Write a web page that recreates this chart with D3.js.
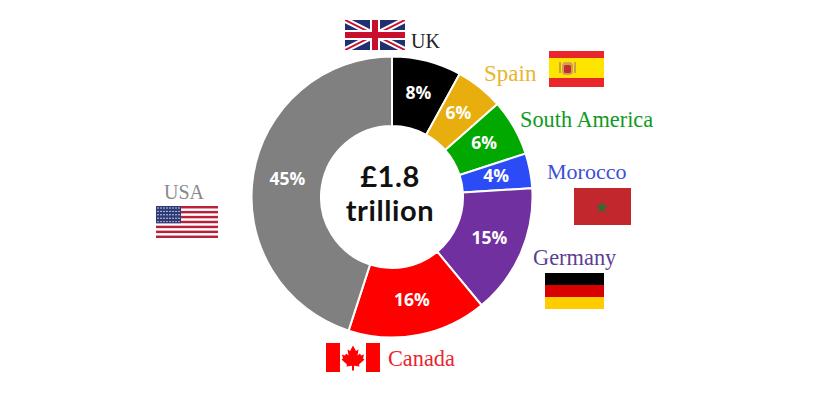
<!DOCTYPE html>
<html><head><meta charset="utf-8">
<script src="https://cdn.jsdelivr.net/npm/d3@7/dist/d3.min.js"></script>
<style>html,body{margin:0;padding:0;background:#fff;overflow:hidden}svg{display:block}</style>
</head><body><svg id="c" width="821" height="402"></svg>
<script>
const categories=["UK","Spain","South America","Morocco","Germany","Canada","USA"];
const shares=[8,5.5,6.5,4,15,16,45];
const shareLabels=["8%","6%","6%","4%","15%","16%","45%"];
const sliceColors=["#000000","#e8ae0e","#00a800","#2a4bf5","#7030a0","#ff0000","#808080"];
const textColors=["#222222","#e9b52c","#0f9a1e","#3c50d8","#5b3f94","#e8252b","#8a8a8a"];
const centreLines=["£1.8","trillion"];
const labelSpots=[[411,48,20],[484,81,23],[520,127,22.3],[547,179,22],[533,265,22.4],[164,199,20],[388,366,22.3]];
const labelOrder=[0,1,2,3,4,6,5];

const svg=d3.select("#c");
const cx=392,cy=197,R=140.5,r0=71;
const g=svg.append("g").attr("transform",`translate(${cx},${cy})`);
const pie=d3.pie().sort(null).value(d=>d)(shares);
const arc=d3.arc().innerRadius(r0).outerRadius(R);
const labelArc=d3.arc().innerRadius(106).outerRadius(106);
g.selectAll("path.s").data(pie).join("path").attr("class","s")
 .attr("d",arc).attr("fill",(d,i)=>sliceColors[i]).attr("stroke","#fff").attr("stroke-width",2);
g.selectAll("text.p").data(pie).join("text").attr("class","p")
 .attr("transform",d=>`translate(${labelArc.centroid(d)})`)
 .attr("text-anchor","middle").attr("dy","0.26em")
 .attr("font-family","'Open Sans',sans-serif").attr("font-weight",700).attr("font-size",17.5)
 .attr("fill","#fff").text((d,i)=>shareLabels[i]);
g.selectAll("text.c").data(centreLines).join("text").attr("class","c")
 .attr("text-anchor","middle").attr("x",-2).attr("y",(d,i)=>i==0?-10:24)
 .attr("font-family","Lato,sans-serif").attr("font-weight",700).attr("font-size",29)
 .attr("letter-spacing",0.6)
 .attr("fill","#111").text(d=>d);
// category labels
svg.selectAll("text.l").data(labelOrder).join("text").attr("class","l")
 .attr("x",(d,i)=>labelSpots[i][0]).attr("y",(d,i)=>labelSpots[i][1])
 .attr("font-size",(d,i)=>labelSpots[i][2])
 .attr("font-family","'Liberation Serif',serif")
 .attr("fill",d=>textColors[d]).text(d=>categories[d]);

function rect(p,x,y,w,h,f){return p.append("rect").attr("x",x).attr("y",y).attr("width",w).attr("height",h).attr("fill",f);}
// UK flag
(function(){const x=345,y=20,w=60,h=30;const p=svg.append("g");
 const id="ukclip";svg.append("defs").append("clipPath").attr("id",id).append("rect").attr("x",x).attr("y",y).attr("width",w).attr("height",h);
 p.attr("clip-path",`url(#${id})`);
 rect(p,x,y,w,h,"#1f2f6f");
 const ln=(a,b,c,d,s,f)=>p.append("line").attr("x1",a).attr("y1",b).attr("x2",c).attr("y2",d).attr("stroke",f).attr("stroke-width",s);
 ln(x,y,x+w,y+h,6,"#fff");ln(x+w,y,x,y+h,6,"#fff");
 ln(x,y,x+w,y+h,2,"#c8102e");ln(x+w,y,x,y+h,2,"#c8102e");
 rect(p,x+w/2-5,y,10,h,"#fff");rect(p,x,y+h/2-5,w,10,"#fff");
 rect(p,x+w/2-3,y,6,h,"#c8102e");rect(p,x,y+h/2-3,w,6,"#c8102e");
})();
// Spain flag
(function(){const x=549,y=51,w=55,h=36;const p=svg.append("g");
 rect(p,x,y,w,h,"#e8262c");rect(p,x,y+7,w,h-16,"#ffe400");
 rect(p,x+10,y+11,2,11,"#c9a24a");rect(p,x+25,y+11,2,11,"#c9a24a");
 rect(p,x+13,y+11,11,13,"#d99a5a").attr("rx",4);
 rect(p,x+15,y+14,7,8,"#c2302a").attr("rx",1.5);
})();
// Morocco flag
(function(){const x=574,y=188,w=57,h=37;const p=svg.append("g");
 rect(p,x,y,w,h,"#c1272d");
 p.append("path").attr("transform",`translate(${x+w/2-0.5},${y+h/2+1})`)
  .attr("d",d3.symbol(d3.symbolStar,50)()).attr("fill","#2f6b34");
})();
// Germany flag
(function(){const x=545,y=273,w=59,h=36;const p=svg.append("g");
 rect(p,x,y,w,12,"#000");rect(p,x,y+12,w,12,"#d90000");rect(p,x,y+24,w,12,"#ffcc00");
})();
// USA flag
(function(){const x=156,y=206,w=62,h=32;const p=svg.append("g");
 rect(p,x,y,w,h,"#fff");
 d3.range(7).forEach(i=>rect(p,x,y+i*h/6.5,w,h/13,"#b8213a"));
 rect(p,x,y,25,h*7/13,"#2d3a78");
 d3.range(5).forEach(j=>d3.range(8).forEach(i=>p.append("circle").attr("cx",x+2+i*3).attr("cy",y+2+j*3.4).attr("r",0.7).attr("fill","#fff")));
})();
// Canada flag
(function(){const x=326,y=343,w=54,h=29;const p=svg.append("g");
 rect(p,x,y,w,h,"#fff");rect(p,x,y,14,h,"#ff0000");rect(p,x+w-14,y,14,h,"#ff0000");
 const mx=x+w/2,my=y+h/2;
 const leaf=[[0,-12],[3,-6.5],[5.5,-8],[4.5,-2],[7,-4],[8,-2],[11,-3],[10,1],[11.5,2],[6,7],[6.5,9],[1,8.2],[1,13],[-1,13],[-1,8.2],[-6.5,9],[-6,7],[-11.5,2],[-10,1],[-11,-3],[-8,-2],[-7,-4],[-4.5,-2],[-5.5,-8],[-3,-6.5]];
 p.append("path").attr("d",d3.line()(leaf.map(q=>[mx+q[0],my+q[1]]))+"Z").attr("fill","#ff0000");
})();
</script></body></html>
